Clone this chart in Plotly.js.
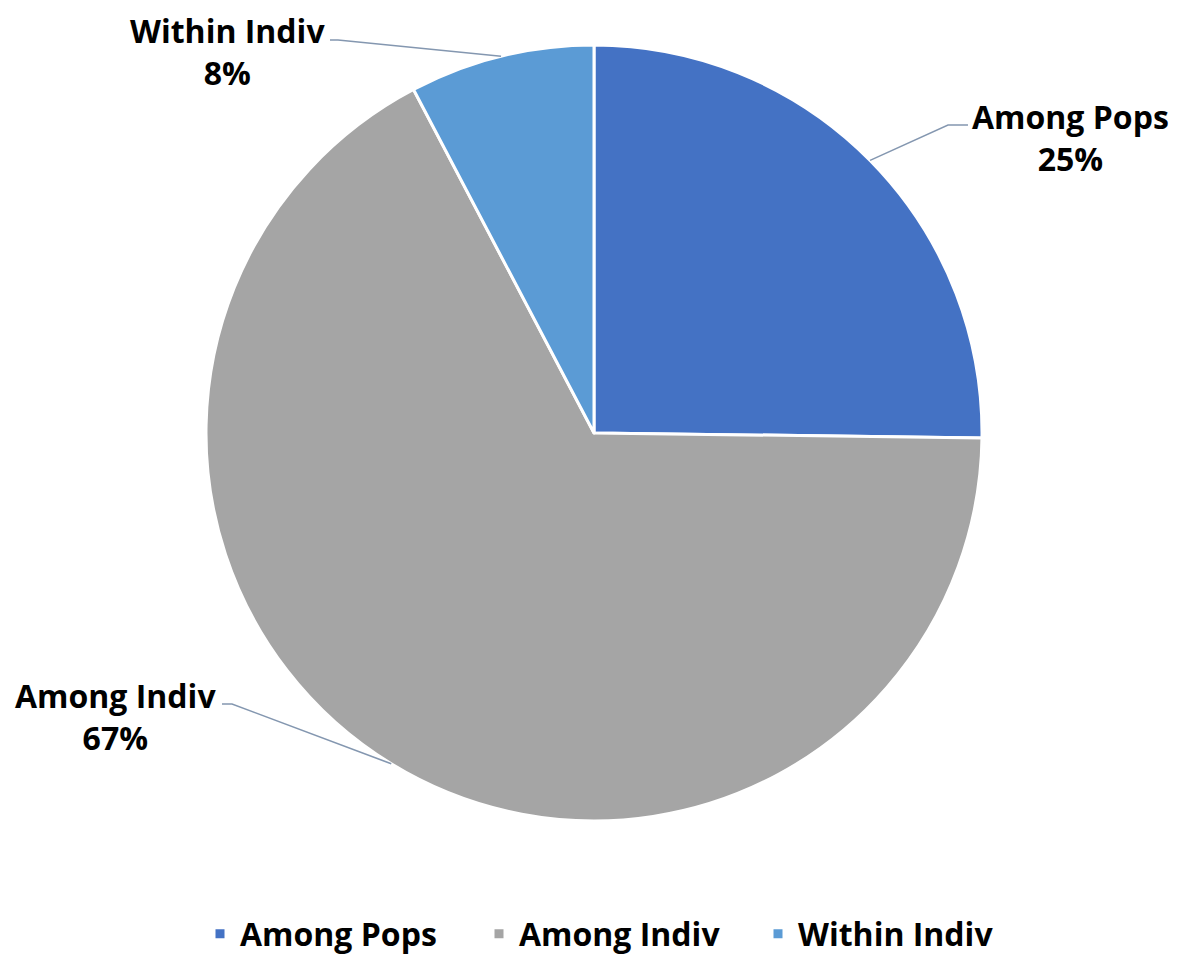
<!DOCTYPE html>
<html><head><meta charset="utf-8">
<script src="https://cdn.plot.ly/plotly-3.0.1.min.js"></script>
<style>html,body{margin:0;padding:0;background:#fff}#chart{width:1188px;height:956px}</style>
</head><body><div id="chart"></div>
<script>
const categories = ["Among Pops", "Among Indiv", "Within Indiv"];
const values = [25.2, 67.1, 7.7];
const colors = ["#4472C4", "#A5A5A5", "#5B9BD5"];

const W = 1188, H = 956;
const domY = [1 - 821 / H, 1 - 45 / H];
const cx = W / 2, cy = 433, R = 388;
const FONT = "Open Sans, sans-serif";

// label positions (pixel centres) and elbow points
const labelPos = [
  {x: 1070, y: 137, elbow: [[948, 125], [968, 125]]},
  {x: 115, y: 716, elbow: [[232, 704], [222, 704]]},
  {x: 227, y: 52, elbow: [[338, 40], [330, 40]]}
];

const total = values.reduce((a, b) => a + b, 0);
let cum = 0;
const shapes = [], annotations = [];
const px = x => x / W, py = y => 1 - y / H;
values.forEach((v, i) => {
  const mid = (cum + v / 2) / total * 2 * Math.PI;
  cum += v;
  const ax = cx + R * Math.sin(mid), ay = cy - R * Math.cos(mid);
  const lp = labelPos[i];
  const pts = [[ax, ay]].concat(lp.elbow);
  const path = pts.map((p, k) => (k ? "L" : "M") + px(p[0]).toFixed(5) + "," + py(p[1]).toFixed(5)).join(" ");
  shapes.push({type: "path", xref: "paper", yref: "paper", path: path,
    line: {color: "#8497B0", width: 1.5}});
  annotations.push({xref: "paper", yref: "paper", x: px(lp.x), y: py(lp.y),
    xanchor: "center", yanchor: "middle", showarrow: false, align: "center",
    text: "<b>" + categories[i] + "</b><br><b>" + Math.round(v / total * 100) + "%</b>",
    font: {family: FONT, size: 32, color: "#000"}});
});

Plotly.newPlot("chart", [{
  type: "pie",
  labels: categories,
  values: values,
  sort: false,
  direction: "clockwise",
  rotation: 0,
  marker: {colors: colors, line: {color: "#fff", width: 3}},
  textinfo: "none",
  hoverinfo: "label+percent",
  domain: {x: [0, 1], y: domY}
}], {
  width: W, height: H,
  margin: {l: 0, r: 0, t: 0, b: 0, autoexpand: false},
  paper_bgcolor: "#fff",
  showlegend: true,
  legend: {orientation: "h", xref: "container", yref: "container",
    x: px(200), xanchor: "left", y: py(934), yanchor: "middle",
    entrywidth: 234, entrywidthmode: "pixels",
    font: {family: FONT, size: 32, color: "#000", weight: "bold"}, itemwidth: 30},
  shapes: shapes,
  annotations: annotations
}, {displayModeBar: false, staticPlot: true});
</script></body></html>
